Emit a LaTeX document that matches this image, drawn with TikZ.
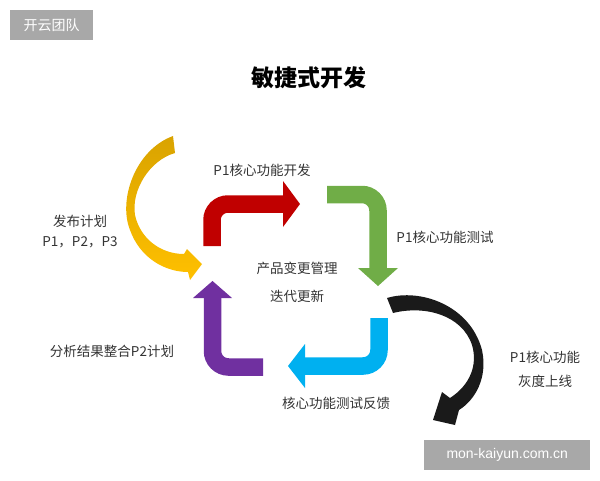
\documentclass[tikz,border=0pt]{standalone}
\usepackage{fontspec}
\setmainfont{Noto Sans CJK SC}
\newfontfamily\webfont{Liberation Sans}
\usetikzlibrary{positioning}

\definecolor{merah}{HTML}{C00000}
\definecolor{hijau}{HTML}{70AD47}
\definecolor{biru}{HTML}{00B0F0}
\definecolor{ungu}{HTML}{7030A0}
\definecolor{kuning}{HTML}{FFC000}
\definecolor{kuningtua}{HTML}{D9A300}
\definecolor{hitam}{HTML}{1A1A1A}
\definecolor{tanda}{HTML}{A8A8A8}

\begin{document}
\begin{tikzpicture}[
  x=1pt, y=-1pt,
  every node/.style={font=\fontsize{13.5}{20}\selectfont},
  teks/.style={align=center, text=black!80, inner sep=0pt},
  jalur/.style={line width=17.5pt, rounded corners=16pt},
  tandaair/.style={
    fill=tanda, text=white, inner sep=0pt, anchor=north west,
    font=\webfont\fontsize{14}{16}\selectfont
  }
]

\useasboundingbox (0,0) rectangle (600,480);

% watermarks
\node[tandaair, minimum width=83pt, minimum height=30pt,
  font=\normalfont\fontsize{14}{16}\selectfont] (logo) at (10,10) {开云团队};
\node[tandaair, minimum width=166pt, minimum height=30pt] (situs) at (424,440)
  {mon-kaiyun.com.cn};

% title
\node[font=\fontsize{23}{26}\selectfont\bfseries] (judul) at (309,78) {敏捷式开发};

% bent arrows round the centre
\draw[jalur, merah] (212,246) -- (212,204) -- (283,204);
\fill[merah] (283,181) -- (300,204) -- (283,227) -- cycle;

\draw[jalur, hijau] (327,194.5) -- (378,194.5) -- (378,268);
\fill[hijau] (358,268) -- (378,286) -- (398,268) -- cycle;

\draw[jalur, biru] (379,318) -- (379,366) -- (305,366);
\fill[biru] (305,344) -- (288,366) -- (305,388) -- cycle;

\draw[jalur, ungu] (263,367) -- (212.5,367) -- (212.5,298);
\fill[ungu] (193,298) -- (212.5,281) -- (232,298) -- cycle;

% curved arrows
\shade[top color=kuningtua, bottom color=kuning]
  (173,136) .. controls (135,150) and (118,200) .. (130,230)
  .. controls (140,258) and (165,272) .. (188,272)
  -- (190,280) -- (202,264) -- (187,249) -- (184,254)
  .. controls (160,254) and (140,238) .. (135,215)
  .. controls (131,190) and (150,160) .. (175,153) -- cycle;

\fill[hitam]
  (387,298) .. controls (420,288) and (470,305) .. (482,350)
  .. controls (488,378) and (475,400) .. (459,410)
  -- (455,425) -- (433,420) -- (442,392) -- (450,398)
  .. controls (470,385) and (478,365) .. (472,345)
  .. controls (462,315) and (425,305) .. (393,313) -- cycle;

% labels
\node[teks] (kembang) at (262,170) {P1核心功能开发};
\node[teks] (uji)     at (445,237) {P1核心功能测试};
\node[teks] (kelola)  at (297,268) {产品变更管理};
\node[teks] (iterasi) [below=15pt of kelola] {迭代更新};
\node[teks] (rilis)   at (80,232) {发布计划\\P1，P2，P3};
\node[teks] (analisis) at (112,351) {分析结果整合P2计划};
\node[teks] (umpan)   at (336,403) {核心功能测试反馈};
\node[teks, font=\fontsize{13.5}{24}\selectfont] (grey) at (545,369)
  {P1核心功能\\灰度上线};

\end{tikzpicture}
\end{document}
